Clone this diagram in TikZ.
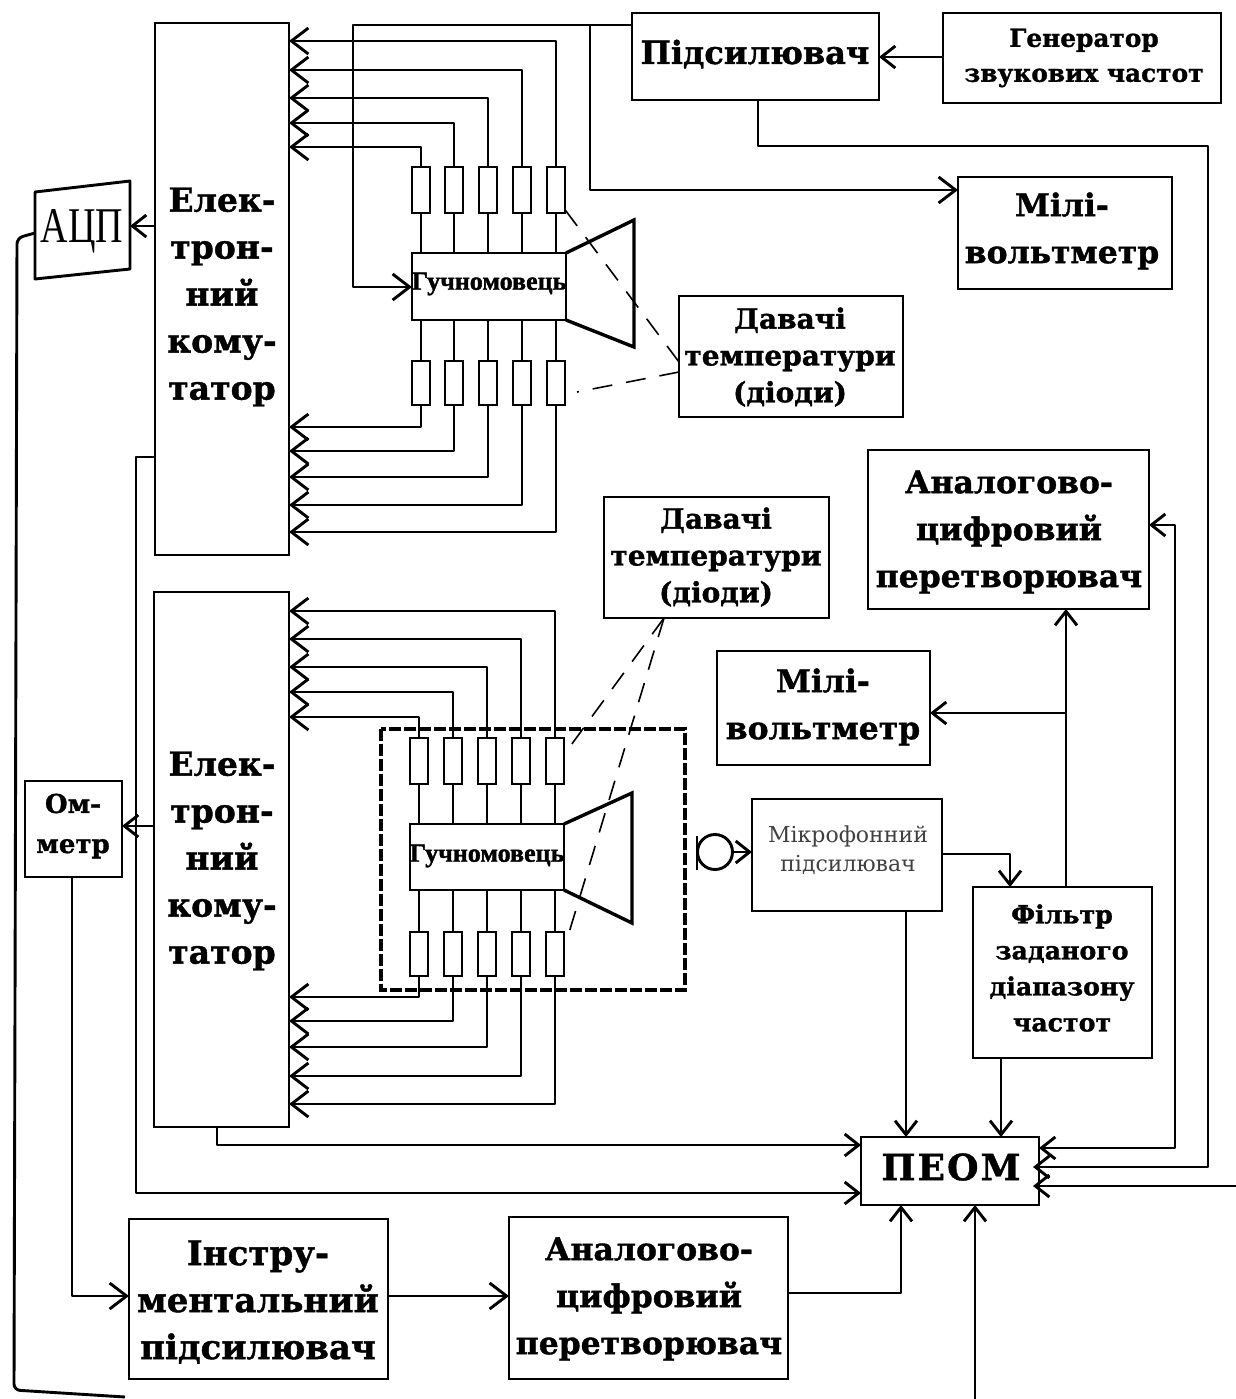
\documentclass[tikz,border=0pt]{standalone}
\usepackage{fontspec}
\setmainfont{DejaVu Serif}[BoldFeatures={FakeBold=1.2}]
\newfontfamily\libs{Liberation Serif}[BoldFeatures={FakeBold=1.5}]
\usetikzlibrary{arrows.meta}
\tikzset{
  wire/.style={line width=1.45pt,line join=round},
  arr/.style={wire,-{Straight Barb[length=8.5pt,width=13pt,line width=1.45pt]}},
  sarr/.style={wire,-{Straight Barb[length=7pt,width=11pt,line width=1.45pt]}},
  boxn/.style={draw,line width=1.45pt,inner sep=0pt,outer sep=0pt,fill=white},
  res/.style={boxn,minimum width=9pt,minimum height=23pt},
  lbl/.style={inner sep=0pt,align=center},
  big/.style={lbl,font=\bfseries\fontsize{15.7}{23.5}\selectfont},
  com/.style={lbl,font=\bfseries\fontsize{16.5}{23.5}\selectfont},
  small/.style={lbl,font=\bfseries\fontsize{14}{18.4}\selectfont},
  thin/.style={lbl,font=\fontsize{11}{14.5}\selectfont,text=black!75},
  spk/.style={lbl,font=\libs\bfseries\fontsize{13}{14}\selectfont},
  dsh/.style={line width=0.8pt,dash pattern=on 10pt off 7pt}
}
\newcommand\bx[5]{%
  \pgfmathsetmacro\mw{(#4-#2)*0.5}\pgfmathsetmacro\mh{(#5-#3)*0.5}%
  \pgfmathsetmacro\cx{(#4+#2)*0.5}\pgfmathsetmacro\cy{(#5+#3)*0.5}%
  \node[boxn,minimum width=\mw pt,minimum height=\mh pt] (#1) at (\cx,\cy) {};}
\begin{document}
\begin{tikzpicture}[x=0.5pt,y=-0.5pt]
\useasboundingbox (0,0) rectangle (1236,1399);
% dashed enclosure
\draw[line width=2.2pt,dash pattern=on 6pt off 1.5pt] (381,729) rectangle (685,990);
% boxes
\bx{ecA}{155}{23}{289}{555}
\bx{ecB}{154}{592}{289}{1127}
\bx{amp}{632}{13}{879}{100}
\bx{gen}{943}{13}{1221}{103}
\bx{mvA}{958}{177}{1172}{289}
\bx{dvA}{679}{296}{903}{417}
\bx{adB}{868}{450}{1149}{609}
\bx{dvB}{604}{497}{829}{618}
\bx{mvB}{717}{651}{930}{765}
\bx{ohm}{25}{781}{122}{877}
\bx{mic}{752}{799}{942}{911}
\bx{flt}{973}{887}{1152}{1058}
\bx{pc}{861}{1137}{1039}{1205}
\bx{ins}{129}{1219}{388}{1379}
\bx{adC}{509}{1217}{788}{1379}
\bx{spA}{412}{253}{566}{320}
\bx{spB}{410}{824}{564}{890}
% ADC (skewed box)
\draw[wire] (35,192) -- (130,181) -- (130,269) -- (35,279) -- cycle;
\coordinate (adE) at (130,226);
\coordinate (adW) at (35,233);
% cones
\draw[wire,line width=1.7pt,line join=miter] (spA.north east) -- (634,220) -- (634,347) -- (spA.south east);
\draw[wire,line width=1.7pt,line join=miter] (spB.north east) -- (632,793) -- (632,923) -- (spB.south east);
% resistors
\foreach \i/\x in {1/421,2/454,3/488,4/522,5/556}{
  \node[res] (ua\i) at (\x,190) {};
  \node[res,minimum height=22pt] (la\i) at (\x,383) {};
  \draw[wire] (ua\i.south) -- (ua\i.south |- spA.north);
  \draw[wire] (la\i.north) -- (la\i.north |- spA.south);
}
\foreach \i/\x in {1/419,2/453,3/487,4/521,5/555}{
  \node[res] (ub\i) at (\x,761) {};
  \node[res,minimum height=22pt] (lb\i) at (\x,954) {};
  \draw[wire] (ub\i.south) -- (ub\i.south |- spB.north);
  \draw[wire] (lb\i.north) -- (lb\i.north |- spB.south);
}
% commutator arrows, loudspeaker 1
\foreach \i/\y in {1/147,2/123,3/98,4/70,5/41} \draw[arr] (ua\i.north) |- (ecA.east |- 0,\y);
\foreach \i/\y in {1/427,2/451,3/477,4/505,5/532} \draw[arr] (la\i.south) |- (ecA.east |- 0,\y);
% commutator arrows, loudspeaker 2
\foreach \i/\y in {1/717,2/692,3/667,4/639,5/611} \draw[arr] (ub\i.north) |- (ecB.east |- 0,\y);
\foreach \i/\y in {1/997,2/1021,3/1047,4/1076,5/1104} \draw[arr] (lb\i.south) |- (ecB.east |- 0,\y);
% amplifier outputs
\draw[arr] (amp.west |- 0,25) -- (353,25) |- (spA.west |- 0,287);
\draw[arr] (590,25) |- (mvA.west |- 0,190);
\draw[sarr] (gen.west |- 0,57) -- (amp.east |- 0,57);
\draw[sarr] (amp.south -| 758,0) |- (1208,146) |- (1033,1167);
% ADC and left lines
\draw[sarr] (ecA.west |- 0,226) -- (adE);
\draw[wire,rounded corners=3pt] (adW) -- (17,238) -- (14,1390) -- (125,1397);
\draw[sarr] (ecA.west |- 0,457) -- (136,457) |- (pc.west |- 0,1193);
\draw[sarr] (ecB.west |- 0,826) -- (ohm.east |- 0,826);
\draw[sarr] (217,1127) |- (pc.west |- 0,1145);
\draw[arr] (72,877) |- (ins.west |- 0,1296);
\draw[arr] (ins.east |- 0,1296) -- (adC.west |- 0,1296);
\draw[sarr] (adC.east |- 0,1293) -| (901,1205);
\draw[sarr] (975,1399) -- (975,1205);
% right side
\draw[sarr] (906,911) -- (906,1137);
\draw[sarr] (1001,1058) -- (1001,1137);
\draw[sarr] (1066,887) -- (1066,609);
\draw[sarr] (1066,713) -- (mvB.east |- 0,713);
\draw[sarr] (mic.east |- 0,854) -| (1010,887);
\draw[wire,{Straight Barb[length=7pt,width=11pt,line width=1.45pt]}-{Straight Barb[length=7pt,width=11pt,line width=1.45pt]}] (pc.east |- 0,1148) -- (1175,1148) -- (1175,525) -- (adB.east |- 0,525);
\draw[sarr] (1236,1186) -- (1033,1186);
% microphone
\node[draw,circle,line width=1.45pt,minimum size=17.5pt,inner sep=0pt] (mc) at (715,852) {};
\draw[wire] (697,836) -- (697,870);
\draw[sarr] (mc.east) -- (mic.west |- mc.east);
% dashed sensor lines
\draw[dsh] (dvA.west |- 0,362) -- (563,207);
\draw[dsh] (dvA.west |- 0,372) -- (577,392);
\draw[dsh] (dvB.south -| 664,0) -- (566,752);
\draw[dsh] (dvB.south -| 664,0) -- (568,936);
% labels
\node[com] (tA) at (222,297) {Елек-\\трон-\\ний\\кому-\\татор};
\node[com] (tB) at (222,861) {Елек-\\трон-\\ний\\кому-\\татор};
\node[big,font=\bfseries\fontsize{16}{23.5}\selectfont] (tAmp) at (755,54) {Підсилювач};
\node[small,font=\bfseries\fontsize{12.4}{17.5}\selectfont] (tGen) at (1084,58) {Генератор\\звукових частот};
\node[big] (tMvA) at (1062,231) {Мілі-\\вольтметр};
\node[big] (tMvB) at (823,707) {Мілі-\\вольтметр};
\node[small] (tDvA) at (790,357) {Давачі\\температури\\(діоди)};
\node[small] (tDvB) at (716,557) {Давачі\\температури\\(діоди)};
\node[big] (tAdB) at (1009,532) {Аналогово-\\цифровий\\перетворювач};
\node[big] (tAdC) at (649,1299) {Аналогово-\\цифровий\\перетворювач};
\node[lbl,font=\bfseries\fontsize{17}{23.5}\selectfont] (tIns) at (258,1302) {Інстру-\\ментальний\\підсилювач};
\node[lbl,font=\bfseries\fontsize{13}{20}\selectfont] (tOhm) at (73,826) {Ом-\\метр};
\node[thin] (tMic) at (848,850) {Мікрофонний\\підсилювач};
\node[lbl,font=\bfseries\fontsize{12.6}{18}\selectfont] (tFlt) at (1062,968) {Фільтр\\заданого\\діапазону\\частот};
\node[lbl,font=\bfseries\fontsize{18}{20}\selectfont\addfontfeature{LetterSpace=6}] (tPc) at (951,1167) {ПЕОМ};
\node[spk] (tSpA) at (489,284) {Гучномовець};
\node[spk] (tSpB) at (487,856) {Гучномовець};
\node[lbl,font=\libs\fontsize{20}{22}\selectfont,xscale=0.95,yscale=1.25,transform shape] (tAd) at (82,231) {АЦП};
\end{tikzpicture}
\end{document}
